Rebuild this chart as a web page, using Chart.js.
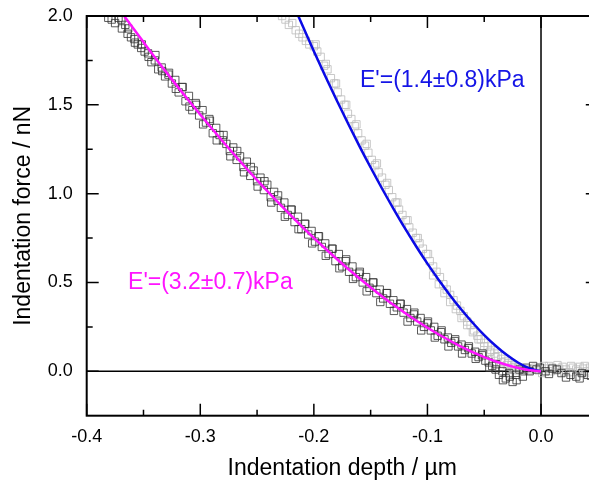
<!DOCTYPE html>
<html>
<head>
<meta charset="utf-8">
<script src="https://cdn.jsdelivr.net/npm/chart.js@4"></script>
<style>
    html, body { margin: 0; padding: 0; background: #fff; overflow: hidden; }
    #wrap { width: 589px; height: 485px; overflow: hidden; }
</style>
</head>
<body>
<div id="wrap"><canvas id="indentChart" width="604" height="485"></canvas></div>
<script>
// tick positions
const xTicks = [-0.4, -0.3, -0.2, -0.1, 0.0];
const xMinor = [-0.35, -0.25, -0.15, -0.05, 0.05];
const yTicks = [0.0, 0.5, 1.0, 1.5, 2.0];
const yMinor = [0.25, 0.75, 1.25, 1.75];

// measured curve, stiffer region (dark squares)
const darkX = [-0.381, -0.378, -0.375, -0.372, -0.369, -0.366, -0.364, -0.361, -0.358, -0.355,
    -0.352, -0.349, -0.346, -0.343, -0.340, -0.337, -0.334, -0.331, -0.328, -0.325,
    -0.322, -0.319, -0.316, -0.313, -0.310, -0.307, -0.304, -0.301, -0.298, -0.295,
    -0.292, -0.289, -0.286, -0.283, -0.280, -0.277, -0.274, -0.271, -0.268, -0.265,
    -0.262, -0.259, -0.256, -0.253, -0.250, -0.247, -0.244, -0.241, -0.238, -0.235,
    -0.232, -0.229, -0.226, -0.223, -0.220, -0.217, -0.214, -0.211, -0.208, -0.205,
    -0.202, -0.199, -0.196, -0.193, -0.190, -0.187, -0.184, -0.181, -0.178, -0.175,
    -0.172, -0.169, -0.166, -0.163, -0.160, -0.157, -0.154, -0.151, -0.148, -0.145,
    -0.142, -0.139, -0.136, -0.133, -0.130, -0.127, -0.124, -0.121, -0.118, -0.115,
    -0.112, -0.109, -0.106, -0.103, -0.100, -0.097, -0.094, -0.091, -0.088, -0.085,
    -0.082, -0.079, -0.076, -0.073, -0.070, -0.067, -0.064, -0.061, -0.058, -0.055,
    -0.052, -0.049, -0.046, -0.043, -0.040, -0.037, -0.034, -0.031, -0.028, -0.025,
    -0.022, -0.019, -0.016, -0.013, -0.010, -0.007, -0.004, -0.001,
    0.004, 0.010, 0.018, 0.026, 0.031, 0.036, 0.041, 0.046,
    -0.3695, -0.3635, -0.3575, -0.3515, -0.3455, -0.3395, -0.3335, -0.3275, -0.3215, -0.3155,
    -0.3095, -0.3035, -0.2975, -0.2915, -0.2855, -0.2795, -0.2735, -0.2675, -0.2615, -0.2555,
    -0.2495, -0.2435, -0.2375, -0.2315, -0.2255, -0.2195, -0.2135, -0.2075, -0.2015, -0.1955,
    -0.1895, -0.1835, -0.1775, -0.1715, -0.1655, -0.1595, -0.1535, -0.1475, -0.1415, -0.1355,
    -0.1295, -0.1235, -0.1175, -0.1115, -0.1055, -0.0995, -0.0935, -0.0875, -0.0815, -0.0755,
    -0.0695, -0.0635, -0.0575, -0.0515, -0.0455, -0.0395, -0.0335, -0.0275, -0.0215, -0.0155,
    0.007, 0.014, 0.022, 0.034, 0.044];
const darkY = [1.99, 1.98, 1.96, 1.99, 1.93, 1.95, 1.90, 1.88, 1.87, 1.84,
    1.82, 1.80, 1.79, 1.74, 1.75, 1.70, 1.71, 1.66, 1.67, 1.62,
    1.64, 1.57, 1.60, 1.52, 1.55, 1.47, 1.51, 1.44, 1.47, 1.40,
    1.42, 1.34, 1.37, 1.33, 1.30, 1.28, 1.24, 1.26, 1.19, 1.21,
    1.15, 1.18, 1.10, 1.13, 1.07, 1.09, 1.02, 1.05, 0.98, 1.01,
    0.96, 0.92, 0.95, 0.88, 0.91, 0.84, 0.87, 0.80, 0.83, 0.77,
    0.79, 0.73, 0.76, 0.70, 0.72, 0.66, 0.69, 0.62, 0.66, 0.59,
    0.62, 0.56, 0.59, 0.53, 0.55, 0.50, 0.53, 0.47, 0.50, 0.44,
    0.46, 0.41, 0.44, 0.38, 0.40, 0.36, 0.38, 0.33, 0.35, 0.30,
    0.32, 0.28, 0.30, 0.25, 0.27, 0.23, 0.25, 0.20, 0.22, 0.18,
    0.19, 0.16, 0.17, 0.14, 0.15, 0.12, 0.13, 0.10, 0.11, 0.08,
    0.09, 0.06, 0.05, 0.03, 0.01, -0.02, 0.00, -0.04, -0.01, -0.06,
    -0.02, 0.01, -0.03, 0.02, 0.00, 0.03, 0.01, 0.02,
    0.00, 0.015, -0.01, -0.02, -0.03, -0.01, -0.02, 0.00,
    1.98, 1.93, 1.85, 1.84, 1.77, 1.78, 1.69, 1.68, 1.59, 1.60,
    1.49, 1.50, 1.39, 1.41, 1.30, 1.33, 1.21, 1.24, 1.12, 1.15,
    1.04, 1.07, 0.95, 0.99, 0.87, 0.91, 0.80, 0.83, 0.72, 0.76,
    0.65, 0.69, 0.58, 0.63, 0.52, 0.56, 0.45, 0.50, 0.39, 0.44,
    0.34, 0.38, 0.28, 0.33, 0.23, 0.28, 0.19, 0.23, 0.14, 0.18,
    0.10, 0.14, 0.07, 0.10, 0.02, 0.04, -0.05, -0.03, -0.05, 0.00,
    -0.015, 0.01, -0.035, -0.04, -0.025];

// measured curve, softer region (light squares)
const lightX = [-0.228, -0.225, -0.222, -0.219, -0.216, -0.213, -0.210, -0.207, -0.204, -0.200,
    -0.197, -0.194, -0.191, -0.188, -0.185, -0.182, -0.179, -0.176, -0.173, -0.170,
    -0.167, -0.164, -0.161, -0.158, -0.155, -0.152, -0.149, -0.146, -0.143, -0.140,
    -0.137, -0.134, -0.131, -0.128, -0.125, -0.122, -0.119, -0.116, -0.113, -0.110,
    -0.107, -0.104, -0.101, -0.098, -0.095, -0.092, -0.089, -0.086, -0.083, -0.080,
    -0.077, -0.074, -0.071, -0.068, -0.065, -0.062, -0.059, -0.056, -0.053, -0.050,
    -0.047, -0.044, -0.041, -0.038, -0.035, -0.032, -0.029, -0.026, -0.023, -0.020,
    -0.017, -0.014, -0.011, -0.008, -0.005, -0.002, 0.001, 0.004, 0.007, 0.010,
    0.013, 0.016, 0.019, 0.022, 0.025, 0.028, 0.031, 0.034, 0.037, 0.040, 0.043, 0.046,
    -0.1985, -0.1895, -0.1805, -0.1715, -0.1625, -0.1535, -0.1445, -0.1355, -0.1265, -0.1175,
    -0.1085, -0.0995, -0.095, -0.090, -0.085, -0.080, -0.075, -0.070, -0.065, -0.060,
    -0.055, -0.050, -0.045, -0.040, -0.035, -0.030, -0.025, -0.020,
    0.0025, 0.0085, 0.0145, 0.0205, 0.0265, 0.0325, 0.0385, 0.0445];
const lightY = [2.00, 1.98, 1.95, 1.96, 1.92, 1.90, 1.88, 1.86, 1.84, 1.83,
    1.80, 1.77, 1.72, 1.70, 1.65, 1.62, 1.57, 1.53, 1.50, 1.45,
    1.42, 1.38, 1.34, 1.30, 1.27, 1.23, 1.19, 1.16, 1.12, 1.09,
    1.05, 1.02, 0.98, 0.95, 0.91, 0.88, 0.85, 0.81, 0.78, 0.75,
    0.72, 0.69, 0.66, 0.62, 0.59, 0.56, 0.53, 0.49, 0.46, 0.43,
    0.40, 0.37, 0.34, 0.31, 0.28, 0.26, 0.23, 0.20, 0.18, 0.16,
    0.14, 0.12, 0.10, 0.085, 0.07, 0.055, 0.045, 0.035, 0.025, 0.02,
    0.015, 0.01, 0.005, 0.012, 0.02, 0.005, -0.01, 0.015, 0.03, 0.02,
    0.005, 0.015, 0.025, 0.01, -0.005, 0.02, 0.01, 0.025, 0.015, 0.00, 0.02, 0.01,
    1.84, 1.73, 1.62, 1.50, 1.39, 1.28, 1.17, 1.06, 0.95, 0.85,
    0.75, 0.66, 0.54, 0.49, 0.44, 0.39, 0.35, 0.30, 0.26, 0.22,
    0.18, 0.14, 0.11, 0.08, 0.05, 0.035, 0.02, 0.005,
    0.03, 0.00, 0.035, -0.005, 0.03, 0.00, 0.03, -0.01];

// Hertz fits
const magentaFitX = [-0.367, -0.35, -0.33, -0.31, -0.29, -0.27, -0.25, -0.23, -0.21, -0.19,
    -0.17, -0.15, -0.13, -0.11, -0.09, -0.07, -0.05, -0.035, -0.02, -0.01, 0];
const magentaFitY = [2.0, 1.853, 1.684, 1.523, 1.368, 1.219, 1.076, 0.941, 0.812, 0.691,
    0.577, 0.472, 0.374, 0.286, 0.207, 0.138, 0.080, 0.045, 0.018, 0.006, 0];
const blueFitX = [-0.2137, -0.20, -0.19, -0.18, -0.17, -0.16, -0.15, -0.14, -0.13, -0.12, -0.11,
    -0.10, -0.09, -0.08, -0.07, -0.06, -0.05, -0.04, -0.03, -0.02, -0.01, 0];
const blueFitY = [2.0, 1.802, 1.662, 1.527, 1.396, 1.269, 1.147, 1.029, 0.916, 0.807, 0.704,
    0.606, 0.514, 0.427, 0.346, 0.272, 0.204, 0.144, 0.091, 0.048, 0.016, 0];

const fitLabels = ["E'=(1.4±0.8)kPa", "E'=(3.2±0.7)kPa"];

const FONT = '"Liberation Sans", Arial, sans-serif';

function toPoints(xs, ys) {
    return xs.map((x, i) => ({ x: x, y: ys[i] }));
}

// where the fit labels go (data coords, left/baseline)
const labelSpots = [
    { x: -0.1594, y: 1.60, color: '#1414e6' },
    { x: -0.3636, y: 0.463, color: '#ff14ff' }
];

const axisFrame = {
    id: 'axisFrame',
    beforeDatasetsDraw(chart) {
        const { ctx, chartArea: a, scales: { x, y } } = chart;
        ctx.save();
        ctx.strokeStyle = '#000';
        ctx.lineWidth = 1.5;
        ctx.beginPath();
        const y0 = y.getPixelForValue(0);
        ctx.moveTo(a.left, y0);
        ctx.lineTo(a.right, y0);
        const x0 = x.getPixelForValue(0);
        ctx.moveTo(x0, a.top);
        ctx.lineTo(x0, a.bottom);
        ctx.stroke();
        ctx.restore();
    },
    afterDatasetsDraw(chart) {
        const { ctx, chartArea: a, scales: { x, y } } = chart;
        ctx.save();
        ctx.strokeStyle = '#000';

        // frame
        ctx.lineWidth = 2;
        ctx.strokeRect(a.left, a.top, a.right - a.left, a.bottom - a.top);

        // inward ticks on all four sides
        ctx.lineWidth = 1.5;
        ctx.beginPath();
        const xt = (v, len) => {
            const p = x.getPixelForValue(v);
            ctx.moveTo(p, a.bottom); ctx.lineTo(p, a.bottom - len);
            ctx.moveTo(p, a.top); ctx.lineTo(p, a.top + len);
        };
        const yt = (v, len) => {
            const p = y.getPixelForValue(v);
            ctx.moveTo(a.left, p); ctx.lineTo(a.left + len, p);
            ctx.moveTo(a.right, p); ctx.lineTo(a.right - len, p);
        };
        xTicks.forEach(v => xt(v, 12));
        xMinor.forEach(v => xt(v, 6));
        yTicks.forEach(v => yt(v, 12));
        yMinor.forEach(v => yt(v, 6));
        ctx.stroke();

        // fit labels
        ctx.font = '23px ' + FONT;
        ctx.textBaseline = 'alphabetic';
        ctx.textAlign = 'left';
        labelSpots.forEach((s, i) => {
            ctx.fillStyle = s.color;
            ctx.fillText(fitLabels[i], x.getPixelForValue(s.x), y.getPixelForValue(s.y));
        });
        ctx.restore();
    }
};

new Chart(document.getElementById('indentChart'), {
    type: 'scatter',
    data: {
        datasets: [
            {
                label: 'fit 3.2 kPa',
                data: toPoints(magentaFitX, magentaFitY),
                showLine: true,
                borderColor: '#ff14ff',
                borderWidth: 2.5,
                pointRadius: 0,
                cubicInterpolationMode: 'monotone',
                order: 0
            },
            {
                label: 'fit 1.4 kPa',
                data: toPoints(blueFitX, blueFitY),
                showLine: true,
                borderColor: '#0a0ae6',
                borderWidth: 2.5,
                pointRadius: 0,
                cubicInterpolationMode: 'monotone',
                order: 1
            },
            {
                label: 'dark',
                data: toPoints(darkX, darkY),
                pointStyle: 'rect',
                pointRadius: 5.2,
                borderWidth: 1,
                borderColor: 'rgba(50,50,50,0.8)',
                backgroundColor: 'rgba(0,0,0,0)',
                order: 2
            },
            {
                label: 'light',
                data: toPoints(lightX, lightY),
                pointStyle: 'rect',
                pointRadius: 5.2,
                borderWidth: 1,
                borderColor: 'rgba(190,190,190,0.85)',
                backgroundColor: 'rgba(0,0,0,0)',
                order: 3
            }
        ]
    },
    options: {
        responsive: false,
        animation: false,
        events: [],
        layout: { padding: { left: 0, right: 2, top: 16, bottom: 0 } },
        scales: {
            x: {
                type: 'linear',
                min: -0.4,
                max: 0.05,
                afterBuildTicks: s => { s.ticks = xTicks.map(v => ({ value: v })); },
                afterFit: s => { s.height = 69.3; s.paddingLeft = 0; s.paddingRight = 0; },
                grid: { display: false, drawTicks: false },
                border: { display: false },
                ticks: {
                    padding: 11,
                    color: '#000',
                    font: { family: FONT, size: 18 },
                    callback: v => v.toFixed(1)
                },
                title: {
                    display: true,
                    text: 'Indentation depth / µm',
                    color: '#000',
                    font: { family: FONT, size: 23 },
                    padding: { top: 0, bottom: 3 }
                }
            },
            y: {
                type: 'linear',
                min: -0.25,
                max: 2.0,
                afterBuildTicks: s => { s.ticks = yTicks.map(v => ({ value: v })); },
                afterFit: s => { s.width = 86.7; s.paddingTop = 0; s.paddingBottom = 0; },
                grid: { display: false, drawTicks: false },
                border: { display: false },
                ticks: {
                    padding: 14,
                    color: '#000',
                    font: { family: FONT, size: 18 },
                    callback: v => v.toFixed(1)
                },
                title: {
                    display: true,
                    text: 'Indentation force / nN',
                    color: '#000',
                    font: { family: FONT, size: 23 },
                    padding: { top: 10, bottom: 0 }
                }
            }
        },
        plugins: {
            legend: { display: false },
            tooltip: { enabled: false }
        }
    },
    plugins: [axisFrame]
});
</script>
</body>
</html>
